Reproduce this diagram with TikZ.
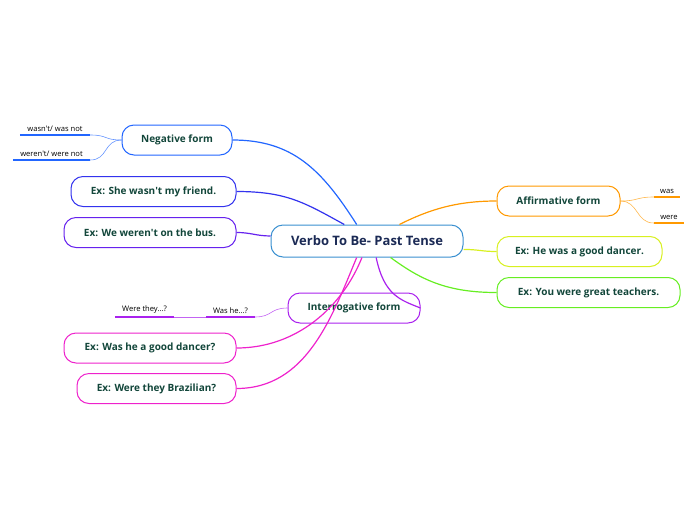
\documentclass[tikz,border=0pt]{standalone}
\usepackage{fontspec}
\setmainfont{Open Sans}
\usepackage{tikz}
\usetikzlibrary{arrows.meta}

\definecolor{mainblue}{HTML}{3A90D0}
\definecolor{maintext}{HTML}{1B2A55}
\definecolor{nodetext}{HTML}{12463A}
\definecolor{negblue}{HTML}{2266FF}
\definecolor{exblue}{HTML}{3333EE}
\definecolor{exviolet}{HTML}{6622EE}
\definecolor{affor}{HTML}{FF9900}
\definecolor{exyellow}{HTML}{D8F020}
\definecolor{exgreen}{HTML}{66EE22}
\definecolor{intpurple}{HTML}{AA22EE}
\definecolor{exmagenta}{HTML}{EE22CC}

\begin{document}
\begin{tikzpicture}[
  x=1pt, y=-1pt,
  % rounded topic boxes
  topic/.style={rectangle,rounded corners=12pt,draw=#1,line width=1pt,fill=white,
    minimum height=30pt,inner xsep=4pt,text=nodetext,font=\bfseries\fontsize{10}{12}\selectfont},
  leaf/.style={inner xsep=6pt,inner ysep=3pt,font=\fontsize{7.6}{9}\selectfont},
  line/.style={draw=#1,line width=1.2pt},
  thin/.style={draw=#1,line width=0.6pt,opacity=0.7},
  bar/.style={draw=#1,line width=2pt}
]
\useasboundingbox (0,0) rectangle (696,520);

\node[topic=mainblue,minimum width=192pt,minimum height=32pt,text=maintext,
  font=\bfseries\fontsize{13}{15}\selectfont] (c) at (367,241) {Verbo To Be- Past Tense};  % centre

\node[topic=negblue,minimum width=110pt] (neg) at (177,140) {Negative form};
\node[topic=exblue,minimum width=165pt] (she) at (153.5,191.5) {Ex: She wasn\textquotesingle t my friend.};
\node[topic=exviolet,minimum width=172pt] (we) at (150,232.5) {Ex: We weren\textquotesingle t on the bus.};
\node[topic=affor,minimum width=123pt] (aff) at (558.5,201) {Affirmative form};
\node[topic=exyellow,minimum width=165pt] (he) at (579.5,251.5) {Ex: He was a good dancer.};
\node[topic=exgreen,minimum width=183pt] (you) at (588.5,292.5) {Ex: You were great teachers.};
\node[topic=intpurple,minimum width=132pt] (int) at (354,308) {Interrogative form};
\node[topic=exmagenta,minimum width=172pt] (was) at (150,348) {Ex: Was he a good dancer?};
\node[topic=exmagenta,minimum width=159pt] (were) at (156.5,388.5) {Ex: Were they Brazilian?};

% leaves
\node[leaf,anchor=south,minimum width=70pt] (w1) at (55,135) {wasn\textquotesingle t/ was not};
\node[leaf,anchor=south,minimum width=77pt] (w2) at (51.5,160) {weren\textquotesingle t/ were not};
\node[leaf,anchor=south,minimum width=26pt] (a1) at (667,197) {was};
\node[leaf,anchor=south,minimum width=30pt] (a2) at (669,223) {were};
\node[leaf,anchor=south,minimum width=48pt] (i1) at (230.5,317) {Was he...?};
\node[leaf,anchor=south,minimum width=59pt] (i2) at (144.5,317) {Were they...?};

\draw[bar=negblue] (w1.south west)--(w1.south east);
\draw[bar=negblue] (w2.south west)--(w2.south east);
\draw[bar=affor] (a1.south west)--(a1.south east);
\draw[bar=affor] (a2.south west)--(a2.south east);
\draw[bar=intpurple] (i1.south west)--(i1.south east);
\draw[bar=intpurple] (i2.south west)--(i2.south east);

% branches from the centre
\draw[line=negblue] (c.122) .. controls +(-35,-55) and +(60,0) .. (neg.east);
\draw[line=exblue] (c.144) .. controls +(-40,-22) and +(50,0) .. (she.east);
\draw[line=exviolet] (c.177) .. controls +(-15,0) and +(15,0) .. (we.east);
\draw[line=affor] (c.27) .. controls +(30,-15) and +(-40,0) .. (aff.west);
\draw[line=exyellow] (c.-5) .. controls +(15,0) and +(-15,0) .. (he.west);
\draw[line=exgreen] (c.-35) .. controls +(30,22) and +(-50,0) .. (you.west);
\draw[line=intpurple] (c.-61) .. controls +(8,38) and +(-20,-8) .. (int.east);
\draw[line=exmagenta] (c.-107) .. controls +(-20,50) and +(60,0) .. (was.east);
\draw[line=exmagenta] (c.-122) .. controls +(-25,60) and +(70,0) .. (were.east);

% leaf links
\draw[thin=negblue] (neg.west) .. controls +(-18,0) and +(18,0) .. (w1.south east);
\draw[thin=negblue] (neg.west) .. controls +(-18,0) and +(18,0) .. (w2.south east);
\draw[thin=affor] (aff.east) .. controls +(18,0) and +(-18,0) .. (a1.south west);
\draw[thin=affor] (aff.east) .. controls +(18,0) and +(-18,0) .. (a2.south west);
\draw[thin=intpurple] (int.west) .. controls +(-18,0) and +(18,0) .. (i1.south east);
\draw[thin=intpurple] (i1.south west) -- (i2.south east);

\end{tikzpicture}
\end{document}
